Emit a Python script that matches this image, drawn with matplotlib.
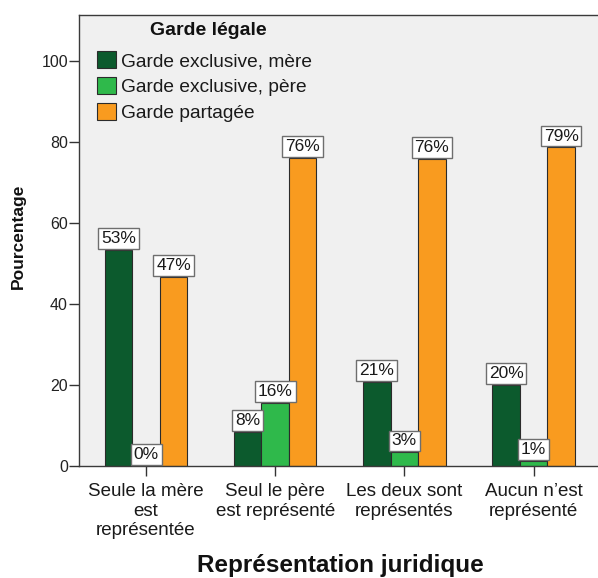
import matplotlib
matplotlib.use("Agg")
import matplotlib.pyplot as plt
import numpy as np

plt.rcParams['font.family'] = ['Liberation Sans', 'DejaVu Sans']

categories = ["Seule la mère\nest\nreprésentée", "Seul le père\nest représenté",
              "Les deux sont\nreprésentés", "Aucun n\u2019est\nreprésenté"]
series_names = ["Garde exclusive, mère", "Garde exclusive, père", "Garde partagée"]
mere = [53.3, 8.5, 20.8, 20.0]
pere = [0.0, 15.6, 3.4, 1.3]
partagee = [46.7, 76.0, 75.8, 78.7]
labels_mere = ["53%", "8%", "21%", "20%"]
labels_pere = ["0%", "16%", "3%", "1%"]
labels_part = ["47%", "76%", "76%", "79%"]
colors = ["#0c5a2d", "#2fb94b", "#f99b1f"]
yticks = [0, 20, 40, 60, 80, 100]

W, H = 598, 578
fig = plt.figure(figsize=(W / 100, H / 100), dpi=100)
fig.patch.set_facecolor("white")
left, right, top, bottom = 79, 600.6, 15, 466
ax = fig.add_axes([left / W, 1 - bottom / H, (right - left) / W, (bottom - top) / H])
ax.set_facecolor("#f0f0f0")

x = np.arange(len(categories))
bw = 0.213
series = [mere, pere, partagee]
labs = [labels_mere, labels_pere, labels_part]
for i, (vals, lab, col, name) in enumerate(zip(series, labs, colors, series_names)):
    xs = x + (i - 1) * bw
    ax.bar(xs, vals, width=bw, color=col, edgecolor="#2b2b2b", linewidth=0.8, label=name, zorder=2)
    for xi, v, t in zip(xs, vals, lab):
        ax.annotate(t, (xi, v), xytext=(0, 2.7), textcoords="offset points",
                    ha="center", va="bottom", fontsize=12.5, color="#1a1a1a",
                    bbox=dict(boxstyle="square,pad=0.17", fc="white", ec="#6e6e6e", lw=1.0),
                    zorder=3)

ax.set_xlim(-0.519, 3.519)
ax.set_ylim(0, (bottom - top) / 4.05)
ax.set_yticks(yticks)
ax.set_yticklabels([str(v) for v in yticks], fontsize=11.5, color="#222222")
ax.set_xticks(x)
ax.set_xticklabels(categories, fontsize=13.5, color="#1a1a1a", linespacing=1.22)
ax.tick_params(axis="y", length=7, width=1, color="#333333", pad=1)
ax.tick_params(axis="x", length=7, width=1, color="#333333", pad=5)
for s in ["left", "bottom", "top", "right"]:
    ax.spines[s].set_color("#3a3a3a")
    ax.spines[s].set_linewidth(1.0)

fig.text(18 / W, 1 - 236 / H, "Pourcentage", rotation=90, ha="center", va="center",
         fontsize=12.5, fontweight="bold", color="#111111")
fig.text(340 / W, 1 - 572 / H, "Représentation juridique", ha="center", va="baseline",
         fontsize=17.5, fontweight="bold", color="#111111")

leg = ax.legend(loc="upper left", bbox_to_anchor=(97 / W, 1 - 51 / H), bbox_transform=fig.transFigure,
                frameon=False, fontsize=13.8,
                handlelength=1.0, handleheight=1.0, handletextpad=0.25,
                labelspacing=0.36, borderpad=0, borderaxespad=0)
for h in leg.legend_handles:
    h.set_edgecolor("#2b2b2b")
for t in leg.get_texts():
    t.set_color("#1a1a1a")
fig.text(208 / W, 1 - 35 / H, "Garde légale", ha="center", va="baseline",
         fontsize=14, fontweight="bold", color="#111111")

fig.savefig("out.png", dpi=100, facecolor="white")
